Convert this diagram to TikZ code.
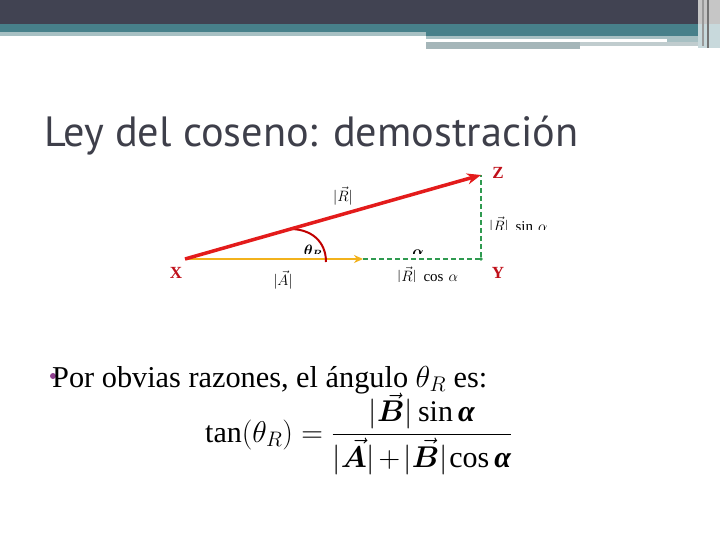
\RequirePackage{fix-cm}
\documentclass[tikz,border=0pt]{standalone}
\usepackage{amsmath}
\usepackage{bm}
\usepackage{fontspec}
\setmainfont{Liberation Serif}
\newfontfamily\titlefont{PT Sans}
\usetikzlibrary{arrows.meta}
\newcommand{\balpha}{\text{\bfseries\itshape α}}
\definecolor{hdark}{HTML}{414352}
\definecolor{hteal}{HTML}{47808A}
\definecolor{hlight}{HTML}{A7C0C3}
\definecolor{hgray}{HTML}{A5B6B9}
\definecolor{titlegray}{HTML}{3E3F4A}
\definecolor{vred}{HTML}{E31B1B}
\definecolor{vyellow}{HTML}{F2B21C}
\definecolor{vgreen}{HTML}{2F9A50}
\definecolor{lblred}{HTML}{C0101A}
\definecolor{arcred}{HTML}{C00000}
\definecolor{bulletpurple}{HTML}{8E3E8E}
\tikzset{
  redvec/.style={draw=vred, line width=3.5pt, -{Stealth[length=14pt,width=11pt]}},
  yellowvec/.style={draw=vyellow, line width=2pt, -{Stealth[length=9pt,width=8pt]}},
  greendash/.style={draw=vgreen, line width=2pt, dash pattern=on 5pt off 3pt},
  ptlabel/.style={text=lblred, font=\bfseries\fontsize{17}{17}\selectfont, inner sep=0},
  vlabel/.style={font=\fontsize{15}{15}\selectfont, inner sep=0},
}
\begin{document}
\begin{tikzpicture}[x=1pt,y=-1pt]
\useasboundingbox (0,0) rectangle (720,540);
\fill[white] (0,0) rectangle (720,540);
% header
\fill[hdark] (0,0) rectangle (720,24);
\fill[hteal] (0,24) rectangle (720,32);
\fill[hlight] (0,32) rectangle (426,36);
\fill[hteal] (426,32) rectangle (700,36);
\fill[hlight] (426,36) rectangle (700,39);
\fill[hlight] (667,39) rectangle (707,46);
\fill[hgray] (426,42) rectangle (580,49);
\fill[hgray!70] (580,42) rectangle (707,46);
\fill[gray!45] (698,0) rectangle (720,24);
\fill[hteal!30] (698,24) rectangle (720,48);
\fill[gray!80] (702,0) rectangle (703.5,46);
\fill[gray!90!black] (707,0) rectangle (709,48);
% title
\node[anchor=base west, inner sep=0, text=titlegray, font=\titlefont\fontsize{42.3}{50}\selectfont] (title) at (44,147) {Ley del coseno: demostración};
% diagram
\coordinate (X) at (185,259);
\coordinate (A) at (363,259);
\coordinate (Y) at (481,259);
\coordinate (Z) at (481,175);
\draw[greendash] (A) -- (Y) -- (Z);
\fill[vgreen] (Y) circle (1.8pt);
\draw[yellowvec] (X) -- (A);
\draw[arcred, line width=2pt] (290,229) .. controls (312,229) and (326,242) .. (326,262);
\draw[redvec] (X) -- (Z);
\node[ptlabel] (lX) at (176,273) {X};
\node[ptlabel] (lY) at (498,273) {Y};
\node[ptlabel] (lZ) at (498,173) {Z};
\node[vlabel] (lR) at (343,196) {$|\vec{R}|$};
\node[vlabel] (lA) at (283,280) {$|\vec{A}|$};
\begin{scope}
  \clip (290,235) rectangle (340,253);
  \node[vlabel] (lth) at (313,251) {$\bm{\theta_R}$};
\end{scope}
\begin{scope}
  \clip (405,235) rectangle (435,253);
  \node[vlabel] (lal) at (418,253) {$\bm{\alpha}$};
\end{scope}
\begin{scope}
  \clip (390,262) rectangle (470,281);
  \node[vlabel, anchor=west] (lcos) at (397,276) {$|\vec{R}|\;\cos\,\alpha$};
\end{scope}
\begin{scope}
  \clip (485,210) rectangle (560,230);
  \node[vlabel, anchor=west] (lsin) at (489,226) {$|\vec{R}|\;\sin\,\alpha$};
\end{scope}
% bottom text
\fill[bulletpurple] (53,376) circle (3pt);
\node[anchor=base west, inner sep=0, font=\fontsize{30.3}{36}\selectfont] (txt) at (52,387) {Por obvias razones, el ángulo $\theta_R$ es:};
\node[anchor=base west, inner sep=0, font=\fontsize{30}{36}\selectfont] (eq) at (205,442)
  {$\displaystyle \tan(\theta_R)=\frac{|\vec{\bm{B}}|\sin\balpha}{\rule{0pt}{26pt}|\vec{\bm{A}}|\mkern-2mu+\mkern-2mu|\vec{\bm{B}}|\mkern-2mu\cos\balpha}$};
\end{tikzpicture}
\end{document}
